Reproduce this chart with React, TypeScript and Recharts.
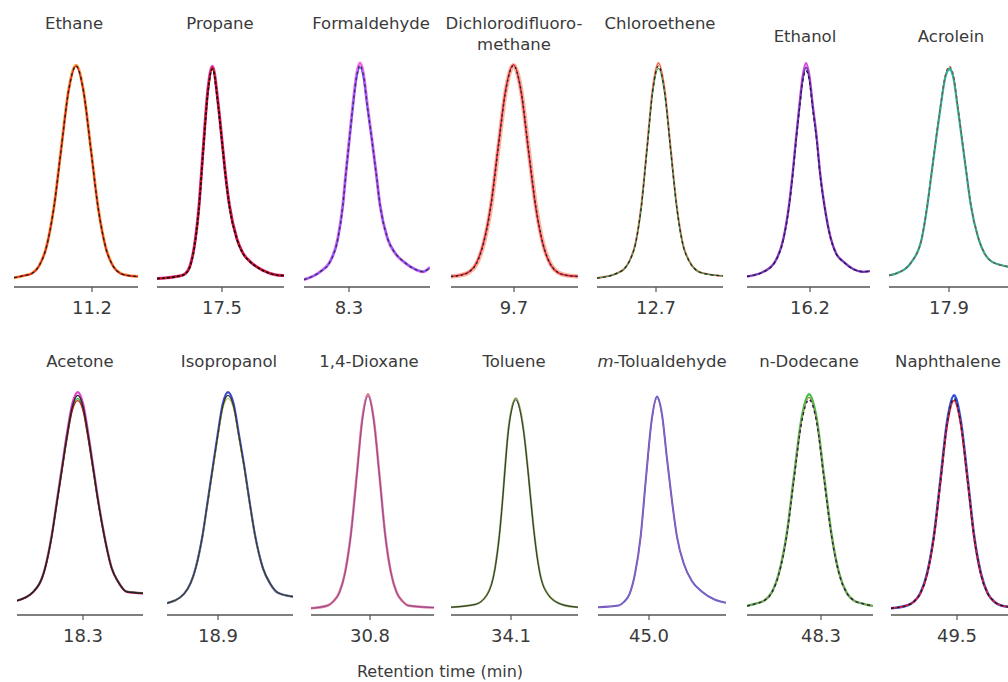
import { LineChart, Line, XAxis, YAxis } from 'recharts'

// retention-time tick for each compound (min)
const NAMES_TOP = ['Ethane', 'Propane', 'Formaldehyde', 'Dichlorodifluoro-\nmethane', 'Chloroethene', 'Ethanol', 'Acrolein']
const NAMES_BOTTOM = ['Acetone', 'Isopropanol', '1,4-Dioxane', 'Toluene', 'm-Tolualdehyde', 'n-Dodecane', 'Naphthalene']
const RT_TOP = [11.2, 17.5, 8.3, 9.7, 12.7, 16.2, 17.9]
const RT_BOTTOM = [18.3, 18.9, 30.8, 34.1, 45.0, 48.3, 49.5]

// time windows shown per panel (min)
const WIN_TOP: [number, number][] = [[10.81, 11.43], [17.175, 17.81], [8.075, 8.705], [9.385, 10.02], [12.405, 13.035], [15.885, 16.5], [17.6, 18.23]]
const WIN_BOTTOM: [number, number][] = [[17.97, 18.6], [18.645, 19.275], [30.505, 31.12], [33.8, 34.435], [44.745, 45.385], [47.93, 48.56], [49.17, 49.8]]

// normalized detector response, overlaid replicate runs
const ETHANE_T = [10.81, 10.861, 10.898, 10.935, 10.972, 11.009, 11.046, 11.083, 11.12, 11.157, 11.194, 11.231, 11.268, 11.305, 11.342, 11.379, 11.43]
const ETHANE_A = [-0.006, 0.004, 0.014, 0.05, 0.14, 0.325, 0.607, 0.883, 1.0, 0.883, 0.607, 0.325, 0.14, 0.05, 0.015, 0.005, 0.0]
const ETHANE_B = [-0.006, 0.004, 0.013, 0.049, 0.138, 0.322, 0.602, 0.878, 0.995, 0.878, 0.603, 0.322, 0.138, 0.049, 0.014, 0.004, 0.0]
const ETHANE_C = [-0.006, 0.004, 0.014, 0.05, 0.139, 0.324, 0.605, 0.88, 0.997, 0.881, 0.605, 0.324, 0.139, 0.05, 0.015, 0.005, 0.0]

const PROPANE_T = [17.175, 17.293, 17.316, 17.339, 17.361, 17.384, 17.406, 17.429, 17.452, 17.482, 17.499, 17.516, 17.537, 17.574, 17.602, 17.641, 17.702, 17.772, 17.81]
const PROPANE_A = [-0.01, 0.003, 0.013, 0.047, 0.14, 0.325, 0.607, 0.883, 0.995, 0.81, 0.654, 0.496, 0.338, 0.18, 0.115, 0.07, 0.03, 0.007, 0.004]
const PROPANE_B = [-0.01, 0.003, 0.012, 0.045, 0.137, 0.32, 0.6, 0.875, 0.99, 0.805, 0.65, 0.493, 0.336, 0.179, 0.114, 0.07, 0.03, 0.007, 0.004]
const PROPANE_C = [-0.01, 0.003, 0.012, 0.044, 0.134, 0.315, 0.594, 0.868, 0.982, 0.8, 0.646, 0.49, 0.334, 0.178, 0.113, 0.069, 0.029, 0.007, 0.004]

const FORMAL_T = [8.075, 8.155, 8.205, 8.244, 8.269, 8.285, 8.302, 8.319, 8.338, 8.355, 8.373, 8.392, 8.414, 8.435, 8.455, 8.492, 8.53, 8.572, 8.639, 8.67, 8.705]
const FORMAL_A = [-0.015, 0.022, 0.07, 0.18, 0.338, 0.496, 0.654, 0.81, 0.955, 1.01, 0.955, 0.81, 0.654, 0.496, 0.338, 0.18, 0.11, 0.07, 0.03, 0.022, 0.045]
const FORMAL_B = [-0.015, 0.021, 0.068, 0.176, 0.332, 0.488, 0.644, 0.798, 0.94, 0.99, 0.94, 0.8, 0.648, 0.495, 0.34, 0.184, 0.113, 0.072, 0.031, 0.023, 0.04]
const FORMAL_C = [-0.015, 0.022, 0.069, 0.178, 0.335, 0.492, 0.649, 0.804, 0.948, 1.0, 0.948, 0.805, 0.651, 0.495, 0.339, 0.182, 0.111, 0.071, 0.03, 0.022, 0.042]

const DICHLORO_T = [9.385, 9.435, 9.472, 9.51, 9.547, 9.585, 9.622, 9.66, 9.697, 9.735, 9.772, 9.81, 9.847, 9.885, 9.922, 9.96, 10.02]
const DICHLORO_A = [0, 0.006, 0.018, 0.055, 0.15, 0.33, 0.61, 0.885, 1.0, 0.885, 0.61, 0.33, 0.15, 0.055, 0.018, 0.006, 0]
const DICHLORO_B = [0, 0.007, 0.02, 0.06, 0.158, 0.342, 0.622, 0.892, 1.002, 0.878, 0.598, 0.32, 0.144, 0.052, 0.017, 0.005, 0]
const DICHLORO_C = [0, 0.006, 0.019, 0.057, 0.153, 0.335, 0.615, 0.888, 0.998, 0.882, 0.605, 0.326, 0.147, 0.054, 0.018, 0.006, 0]

const CHLORO_T = [12.405, 12.511, 12.54, 12.568, 12.597, 12.626, 12.655, 12.683, 12.712, 12.743, 12.773, 12.804, 12.834, 12.865, 12.895, 12.926, 13.035]
const CHLORO_A = [-0.008, 0.018, 0.035, 0.075, 0.155, 0.33, 0.61, 0.885, 1.01, 0.885, 0.61, 0.33, 0.155, 0.075, 0.035, 0.018, 0.002]
const CHLORO_B = [-0.008, 0.017, 0.034, 0.073, 0.151, 0.322, 0.596, 0.865, 0.985, 0.865, 0.596, 0.322, 0.151, 0.073, 0.034, 0.017, 0.002]
const CHLORO_C = [-0.008, 0.018, 0.035, 0.074, 0.153, 0.326, 0.603, 0.875, 0.997, 0.875, 0.603, 0.326, 0.153, 0.074, 0.035, 0.018, 0.002]

const ETHANOL_T = [15.885, 15.967, 16.025, 16.067, 16.095, 16.114, 16.13, 16.147, 16.164, 16.18, 16.197, 16.214, 16.234, 16.25, 16.272, 16.304, 16.33, 16.367, 16.465, 16.5]
const ETHANOL_A = [0, 0.022, 0.07, 0.18, 0.338, 0.496, 0.654, 0.81, 0.95, 1.01, 0.95, 0.81, 0.654, 0.496, 0.338, 0.18, 0.11, 0.07, 0.022, 0.025]
const ETHANOL_B = [0, 0.022, 0.069, 0.177, 0.333, 0.489, 0.645, 0.8, 0.935, 0.99, 0.935, 0.8, 0.646, 0.49, 0.335, 0.179, 0.11, 0.07, 0.022, 0.025]
const ETHANOL_C = [0, 0.021, 0.068, 0.175, 0.329, 0.483, 0.637, 0.79, 0.925, 0.975, 0.925, 0.79, 0.64, 0.486, 0.333, 0.178, 0.109, 0.069, 0.022, 0.025]

const ACROLEIN_T = [17.6, 17.639, 17.714, 17.764, 17.792, 17.814, 17.836, 17.859, 17.881, 17.902, 17.922, 17.942, 17.964, 17.986, 18.009, 18.047, 18.077, 18.114, 18.196, 18.23]
const ACROLEIN_A = [0.005, 0.015, 0.07, 0.18, 0.338, 0.496, 0.654, 0.81, 0.94, 0.98, 0.94, 0.81, 0.654, 0.496, 0.338, 0.18, 0.11, 0.07, 0.046, 0.04]
const ACROLEIN_B = [0.005, 0.015, 0.071, 0.182, 0.341, 0.5, 0.659, 0.816, 0.947, 0.987, 0.947, 0.815, 0.657, 0.498, 0.339, 0.18, 0.11, 0.07, 0.046, 0.04]
const ACROLEIN_C = [0.005, 0.015, 0.07, 0.181, 0.34, 0.499, 0.658, 0.815, 0.948, 0.995, 0.953, 0.82, 0.662, 0.502, 0.342, 0.182, 0.111, 0.07, 0.046, 0.04]

const ACETONE_T = [17.97, 18.052, 18.11, 18.144, 18.169, 18.194, 18.219, 18.247, 18.274, 18.3, 18.327, 18.352, 18.377, 18.406, 18.444, 18.474, 18.519, 18.6]
const ACETONE_A = [0.018, 0.06, 0.171, 0.329, 0.486, 0.644, 0.802, 0.95, 1.005, 0.95, 0.802, 0.644, 0.486, 0.329, 0.171, 0.11, 0.06, 0.053]
const ACETONE_B = [0.018, 0.06, 0.17, 0.326, 0.481, 0.637, 0.793, 0.938, 0.99, 0.938, 0.794, 0.638, 0.482, 0.327, 0.17, 0.11, 0.06, 0.053]
const ACETONE_C = [0.018, 0.061, 0.172, 0.328, 0.482, 0.635, 0.787, 0.928, 0.975, 0.926, 0.785, 0.632, 0.479, 0.326, 0.17, 0.11, 0.061, 0.054]
const ACETONE_D = [0.017, 0.059, 0.168, 0.322, 0.475, 0.627, 0.779, 0.92, 0.965, 0.918, 0.778, 0.627, 0.476, 0.324, 0.169, 0.109, 0.059, 0.052]

const IPA_T = [18.645, 18.73, 18.788, 18.823, 18.848, 18.873, 18.898, 18.924, 18.95, 18.978, 19.005, 19.033, 19.058, 19.085, 19.125, 19.16, 19.2, 19.275]
const IPA_A = [0.006, 0.05, 0.171, 0.329, 0.486, 0.644, 0.802, 0.95, 1.005, 0.95, 0.802, 0.644, 0.486, 0.329, 0.171, 0.1, 0.055, 0.037]
const IPA_B = [0.006, 0.05, 0.17, 0.326, 0.481, 0.637, 0.793, 0.938, 0.99, 0.938, 0.793, 0.638, 0.482, 0.327, 0.17, 0.1, 0.055, 0.037]
const IPA_C = [0.006, 0.049, 0.168, 0.322, 0.476, 0.63, 0.784, 0.926, 0.975, 0.926, 0.785, 0.632, 0.478, 0.325, 0.169, 0.1, 0.055, 0.037]

const DIOXANE_T = [30.505, 30.589, 30.617, 30.646, 30.675, 30.704, 30.733, 30.761, 30.79, 30.819, 30.848, 30.876, 30.905, 30.934, 30.963, 30.991, 31.12]
const DIOXANE_A = [-0.018, -0.005, 0.015, 0.055, 0.15, 0.33, 0.605, 0.875, 0.995, 0.875, 0.605, 0.33, 0.15, 0.055, 0.015, -0.005, -0.015]
const DIOXANE_B = [-0.018, -0.005, 0.014, 0.054, 0.148, 0.326, 0.598, 0.866, 0.985, 0.867, 0.6, 0.328, 0.149, 0.055, 0.015, -0.005, -0.015]

const TOLUENE_T = [33.8, 33.92, 33.979, 34.02, 34.042, 34.057, 34.07, 34.084, 34.104, 34.124, 34.145, 34.166, 34.184, 34.2, 34.217, 34.24, 34.287, 34.354, 34.435]
const TOLUENE_A = [-0.013, 0.0, 0.045, 0.171, 0.329, 0.486, 0.644, 0.802, 0.93, 0.976, 0.925, 0.802, 0.644, 0.486, 0.329, 0.171, 0.045, 0.0, -0.013]
const TOLUENE_B = [-0.013, 0.0, 0.044, 0.169, 0.326, 0.482, 0.639, 0.796, 0.923, 0.968, 0.918, 0.796, 0.639, 0.482, 0.326, 0.169, 0.044, 0.0, -0.013]

const MTOL_T = [44.745, 44.848, 44.875, 44.903, 44.93, 44.958, 44.985, 45.013, 45.04, 45.065, 45.09, 45.115, 45.14, 45.175, 45.215, 45.265, 45.33, 45.385]
const MTOL_A = [-0.013, -0.005, 0.012, 0.05, 0.145, 0.32, 0.6, 0.87, 0.985, 0.9, 0.69, 0.49, 0.32, 0.19, 0.11, 0.06, 0.022, 0.008]
const MTOL_B = [-0.013, -0.005, 0.012, 0.049, 0.143, 0.316, 0.593, 0.861, 0.975, 0.892, 0.684, 0.486, 0.318, 0.189, 0.11, 0.06, 0.022, 0.008]

const DODEC_T = [47.93, 47.978, 48.015, 48.053, 48.09, 48.128, 48.165, 48.203, 48.24, 48.278, 48.315, 48.353, 48.39, 48.428, 48.465, 48.503, 48.56]
const DODEC_A = [-0.007, 0.005, 0.018, 0.056, 0.15, 0.33, 0.608, 0.882, 0.995, 0.882, 0.608, 0.33, 0.15, 0.056, 0.018, 0.005, -0.007]
const DODEC_B = [-0.007, 0.005, 0.018, 0.055, 0.148, 0.325, 0.6, 0.87, 0.98, 0.87, 0.6, 0.325, 0.148, 0.055, 0.018, 0.005, -0.007]
const DODEC_C = [-0.007, 0.005, 0.017, 0.054, 0.146, 0.322, 0.594, 0.862, 0.97, 0.864, 0.596, 0.323, 0.147, 0.055, 0.018, 0.005, -0.007]

const NAPH_T = [49.17, 49.249, 49.283, 49.316, 49.35, 49.384, 49.418, 49.451, 49.485, 49.519, 49.553, 49.586, 49.62, 49.654, 49.688, 49.721, 49.8]
const NAPH_A = [-0.018, -0.005, 0.012, 0.052, 0.145, 0.322, 0.597, 0.868, 0.99, 0.868, 0.597, 0.322, 0.145, 0.052, 0.012, -0.005, -0.015]
const NAPH_B = [-0.018, -0.005, 0.012, 0.05, 0.14, 0.315, 0.585, 0.85, 0.965, 0.85, 0.585, 0.315, 0.14, 0.05, 0.012, -0.005, -0.015]
const NAPH_C = [-0.018, -0.005, 0.012, 0.051, 0.142, 0.318, 0.59, 0.858, 0.975, 0.858, 0.59, 0.318, 0.142, 0.051, 0.012, -0.005, -0.015]

type Run = { values: number[]; color: string; width: number; dash?: string }

const FONT = '"DejaVu Sans", Verdana, sans-serif'
const TEXT = '#3a3a3a'
const PLOT_H = 226
const AXIS_H = 40

// panel layout: left/right edge of axis line (px) and title centre
const TOP_Y = 61
const BOTTOM_Y = 389
const EDGES_TOP = [[14, 138], [157, 284], [304, 430], [451, 578], [597, 723], [747, 870], [889, 1015]]
const EDGES_BOTTOM = [[17, 143], [167, 293], [311, 434], [451, 578], [598, 726], [747, 873], [891, 1017]]
const TITLE_X_TOP = [74, 220, 371, 514, 660, 805, 951]
const TITLE_Y_TOP = [13, 13, 13, 13, 13, 26, 26]
const TITLE_X_BOTTOM = [80, 229, 369, 514, 662, 809, 948]

const RUNS_TOP: [number[], Run[]][] = [
  [ETHANE_T, [
    { values: ETHANE_A, color: '#f5a23a', width: 3 },
    { values: ETHANE_B, color: '#e0282a', width: 1.6 },
    { values: ETHANE_C, color: '#2a1a1a', width: 1.3, dash: '3 3' },
  ]],
  [PROPANE_T, [
    { values: PROPANE_A, color: '#e040c8', width: 3 },
    { values: PROPANE_B, color: '#d01818', width: 2.2 },
    { values: PROPANE_C, color: '#1a0a0a', width: 1.6, dash: '3 2' },
  ]],
  [FORMAL_T, [
    { values: FORMAL_A, color: '#ee6ae8', width: 3 },
    { values: FORMAL_B, color: '#7a5cff', width: 1.8 },
    { values: FORMAL_C, color: '#3a2a4a', width: 1.2, dash: '3 3' },
  ]],
  [DICHLORO_T, [
    { values: DICHLORO_A, color: '#f9b49a', width: 4.5 },
    { values: DICHLORO_B, color: '#e0203a', width: 1.6 },
    { values: DICHLORO_C, color: '#22223a', width: 1.4, dash: '2 3' },
  ]],
  [CHLORO_T, [
    { values: CHLORO_A, color: '#f26b4a', width: 2 },
    { values: CHLORO_B, color: '#3aa05a', width: 1.2 },
    { values: CHLORO_C, color: '#222222', width: 1.2, dash: '3 3' },
  ]],
  [ETHANOL_T, [
    { values: ETHANOL_A, color: '#d94ad9', width: 2.4 },
    { values: ETHANOL_B, color: '#6a3fb5', width: 1.8 },
    { values: ETHANOL_C, color: '#1a1a50', width: 1.3, dash: '3 3' },
  ]],
  [ACROLEIN_T, [
    { values: ACROLEIN_A, color: '#28b4d8', width: 2.2 },
    { values: ACROLEIN_B, color: '#3cae6a', width: 1.5 },
    { values: ACROLEIN_C, color: '#8a4a4a', width: 1.2, dash: '3 3' },
  ]],
]

const RUNS_BOTTOM: [number[], Run[]][] = [
  [ACETONE_T, [
    { values: ACETONE_A, color: '#e040c8', width: 2.4 },
    { values: ACETONE_C, color: '#40b040', width: 1.6 },
    { values: ACETONE_D, color: '#c02020', width: 1.4 },
    { values: ACETONE_B, color: '#222222', width: 1.4 },
  ]],
  [IPA_T, [
    { values: IPA_A, color: '#3a4ad0', width: 2.2 },
    { values: IPA_C, color: '#b0c040', width: 1.2 },
    { values: IPA_B, color: '#333333', width: 1.2 },
  ]],
  [DIOXANE_T, [
    { values: DIOXANE_A, color: '#e07090', width: 2.4 },
    { values: DIOXANE_B, color: '#8a4a9a', width: 1 },
  ]],
  [TOLUENE_T, [
    { values: TOLUENE_A, color: '#80a050', width: 2 },
    { values: TOLUENE_B, color: '#333333', width: 1 },
  ]],
  [MTOL_T, [
    { values: MTOL_A, color: '#5a5ad0', width: 2 },
    { values: MTOL_B, color: '#9a60b0', width: 1 },
  ]],
  [DODEC_T, [
    { values: DODEC_A, color: '#40c040', width: 2.4 },
    { values: DODEC_B, color: '#a09060', width: 1.4 },
    { values: DODEC_C, color: '#222244', width: 1.4, dash: '3 3' },
  ]],
  [NAPH_T, [
    { values: NAPH_A, color: '#3050e0', width: 2.6 },
    { values: NAPH_B, color: '#e02040', width: 1.8 },
    { values: NAPH_C, color: '#1a1a1a', width: 1.3, dash: '3 3' },
  ]],
]

function Panel({ left, top, right, rt, win, times, runs }: {
  left: number; top: number; right: number; rt: number; win: [number, number]; times: number[]; runs: Run[]
}) {
  const data = times.map((t, i) => {
    const row: Record<string, number> = { t }
    runs.forEach((r, k) => { row['r' + k] = r.values[i] })
    return row
  })
  return (
    <div style={{ position: 'absolute', left, top }}>
      <LineChart width={right - left} height={PLOT_H + AXIS_H} data={data} margin={{ top: 0, right: 0, bottom: 0, left: 0 }}>
        <XAxis
          type="number"
          dataKey="t"
          domain={win}
          allowDataOverflow
          ticks={[rt]}
          tickFormatter={(v: number) => v.toFixed(1)}
          height={AXIS_H}
          tickSize={5}
          tickMargin={9}
          axisLine={{ stroke: '#555', strokeWidth: 1.5 }}
          tickLine={{ stroke: '#555', strokeWidth: 1.2 }}
          tick={{ fill: TEXT, fontSize: 18, fontFamily: FONT }}
        />
        <YAxis hide domain={[-0.05, 1.02]} allowDataOverflow />
        {runs.map((r, k) => (
          <Line
            key={k}
            type="monotone"
            dataKey={'r' + k}
            stroke={r.color}
            strokeWidth={r.width}
            strokeDasharray={r.dash}
            dot={false}
            isAnimationActive={false}
          />
        ))}
      </LineChart>
    </div>
  )
}

function Title({ x, y, text }: { x: number; y: number; text: string }) {
  const italicM = text.startsWith('m-')
  return (
    <div style={{
      position: 'absolute', left: x, top: y, transform: 'translateX(-50%)',
      fontFamily: FONT, fontSize: 16.5, lineHeight: '21px', color: TEXT,
      whiteSpace: 'pre', textAlign: 'center',
    }}>
      {italicM ? <><i>m</i>{text.slice(1)}</> : text}
    </div>
  )
}

export default function App() {
  return (
    <div style={{ position: 'absolute', left: 0, top: 0, width: 1008, height: 682, overflow: 'hidden', background: '#fff' }}>
      {RUNS_TOP.map(([times, runs], i) => (
        <Panel key={'t' + i} left={EDGES_TOP[i][0]} right={EDGES_TOP[i][1]} top={TOP_Y}
          rt={RT_TOP[i]} win={WIN_TOP[i]} times={times} runs={runs} />
      ))}
      {RUNS_BOTTOM.map(([times, runs], i) => (
        <Panel key={'b' + i} left={EDGES_BOTTOM[i][0]} right={EDGES_BOTTOM[i][1]} top={BOTTOM_Y}
          rt={RT_BOTTOM[i]} win={WIN_BOTTOM[i]} times={times} runs={runs} />
      ))}
      {NAMES_TOP.map((n, i) => (
        <Title key={'nt' + i} x={TITLE_X_TOP[i]} y={TITLE_Y_TOP[i]} text={n} />
      ))}
      {NAMES_BOTTOM.map((n, i) => (
        <Title key={'nb' + i} x={TITLE_X_BOTTOM[i]} y={351} text={n} />
      ))}
      <div style={{
        position: 'absolute', left: 440, top: 662, transform: 'translateX(-50%)',
        fontFamily: FONT, fontSize: 16, lineHeight: '20px', color: TEXT, whiteSpace: 'nowrap',
      }}>
        Retention time (min)
      </div>
    </div>
  )
}
